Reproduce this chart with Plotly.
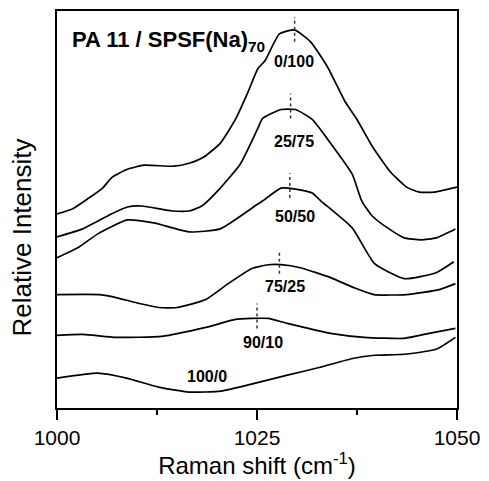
import plotly.graph_objects as go

# Raman shift (cm-1) and relative intensity (arbitrary units, offset curves)
x_0_100 = [1000, 1001.9, 1003.8, 1005.7, 1006.9, 1008.8, 1010.9, 1014.6, 1016.5, 1018.3, 1020.4,
           1022.3, 1023.9, 1025.1, 1026.0, 1027.8, 1029.7, 1031.7, 1033.8, 1036.0, 1037.5, 1039.4,
           1041.6, 1043.7, 1045.3, 1047.2, 1050]
y_0_100 = [195, 200, 210, 221, 232, 240, 244, 243, 246, 252, 266,
           290, 318, 341, 349, 376, 380, 368, 343, 308, 290, 263,
           238, 222, 217, 217, 222]

x_25_75 = [1000, 1003.2, 1006.8, 1008.8, 1010.6, 1014.4, 1016.5, 1018.1, 1020.3, 1022.9, 1025.1,
           1025.7, 1028.0, 1029.8, 1031.9, 1034.2, 1036.9, 1038.1, 1039.4, 1041.5, 1043.4, 1045.5,
           1047.4, 1049.8]
y_25_75 = [172, 180, 195, 202, 203, 198, 198, 203, 220, 245, 281,
           291, 300, 300, 290, 266, 235, 208, 193, 180, 171, 169,
           171, 180]

x_50_50 = [1000, 1002.6, 1005.1, 1008.8, 1012.1, 1016.5, 1020.4, 1025.1, 1025.7, 1028.0, 1029.8,
           1031.9, 1033.0, 1036.9, 1039.7, 1043.4, 1047.4, 1049.6]
y_50_50 = [151, 161, 175, 189, 186, 177, 180, 205, 208, 221, 220,
           216, 208, 181, 145, 130, 136, 147]

x_75_25 = [1000, 1005.3, 1006.9, 1010.3, 1012.7, 1015.0, 1018.6, 1021.4, 1024.3, 1026.4, 1028.0,
           1030.4, 1034.2, 1037.1, 1039.6, 1043.7, 1047.8, 1049.8]
y_75_25 = [114, 114, 112, 105, 101, 101, 109, 125, 140, 144, 144,
           141, 131, 121, 114, 114, 119, 125]

x_90_10 = [1000, 1003.2, 1007.4, 1013.1, 1018.6, 1022.3, 1024.3, 1026.4, 1028.8, 1034.2, 1038.4,
           1043.4, 1046.5, 1049.8]
y_90_10 = [73, 74, 71, 72, 81, 89, 90, 90, 85, 75, 71,
           70, 75, 80]

x_100_0 = [1000, 1005.1, 1008.7, 1012.7, 1016.5, 1020.5, 1024.8, 1028.8, 1032.9, 1037.1, 1039.7,
           1043.4, 1047.4, 1049.8]
y_100_0 = [30, 35, 30, 21, 16, 17, 25, 33, 41, 50, 53,
           54, 59, 71]

series_names = ["0/100", "25/75", "50/50", "75/25", "90/10", "100/0"]
series_x = [x_0_100, x_25_75, x_50_50, x_75_25, x_90_10, x_100_0]
series_y = [y_0_100, y_25_75, y_50_50, y_75_25, y_90_10, y_100_0]

# label positions (x, y) for each blend ratio
label_x = [1029.6, 1029.6, 1029.7, 1028.5, 1025.7, 1018.7]
label_y = [348, 268, 192, 122, 66, 32]

# peak position markers (x, y_bottom, y_top)
peak_x = [1029.7, 1029.2, 1029.1, 1027.8, 1025.0]
peak_y0 = [368, 291, 211, 135, 80]
peak_y1 = [393, 316, 236, 158, 105]

x_ticks = [1000, 1025, 1050]
x_minor = [1012.5, 1037.5]

FONT = "Arial, Liberation Sans, Helvetica, sans-serif"

fig = go.Figure()
for name, xs, ys in zip(series_names, series_x, series_y):
    fig.add_trace(go.Scatter(x=xs, y=ys, mode="lines", name=name,
                             line=dict(color="black", width=1.7, shape="spline", smoothing=0.5),
                             showlegend=False))

for px, y0, y1 in zip(peak_x, peak_y0, peak_y1):
    fig.add_trace(go.Scatter(x=[px, px], y=[y0, y1], mode="lines", showlegend=False,
                             line=dict(color="#333333", width=1.5, dash="dot")))

for name, lx, ly in zip(series_names, label_x, label_y):
    fig.add_annotation(x=lx, y=ly, text="<b>%s</b>" % name, showarrow=False,
                       font=dict(family=FONT, size=16, color="black"),
                       xanchor="center", yanchor="middle")

fig.add_annotation(xref="paper", yref="paper", x=0.033, y=0.925,
                   text="<b>PA 11 / SPSF(Na)<sub>70</sub></b>", showarrow=False,
                   font=dict(family=FONT, size=22, color="black"),
                   xanchor="left", yanchor="middle")

fig.add_annotation(xref="paper", yref="paper", x=-0.087, y=0.43,
                   text="Relative Intensity", showarrow=False, textangle=-90,
                   font=dict(family=FONT, size=26, color="black"),
                   xanchor="center", yanchor="middle")

fig.update_layout(
    width=489, height=481,
    margin=dict(l=57, r=28, t=9, b=73),
    paper_bgcolor="white", plot_bgcolor="white",
    font=dict(family=FONT, color="black"),
)
fig.update_xaxes(range=[1000, 1050], showgrid=False, zeroline=False,
                 showline=True, linecolor="black", linewidth=1.5, mirror=True,
                 tickmode="array", tickvals=x_ticks, ticktext=[str(t) for t in x_ticks],
                 ticks="outside", ticklen=10, tickwidth=1.5, tickcolor="black",
                 tickfont=dict(family=FONT, size=21, color="black"),
                 title=dict(text="Raman shift (cm<sup>-1</sup>)", standoff=6,
                            font=dict(family=FONT, size=24, color="black")),
                 minor=dict(tickmode="array", tickvals=x_minor, ticks="outside",
                            ticklen=5, tickwidth=1.5, tickcolor="black", showgrid=False))
fig.update_yaxes(range=[0, 399], showgrid=False, zeroline=False,
                 showline=True, linecolor="black", linewidth=1.5, mirror=True,
                 showticklabels=False, ticks="")

fig.write_html("out.html")
